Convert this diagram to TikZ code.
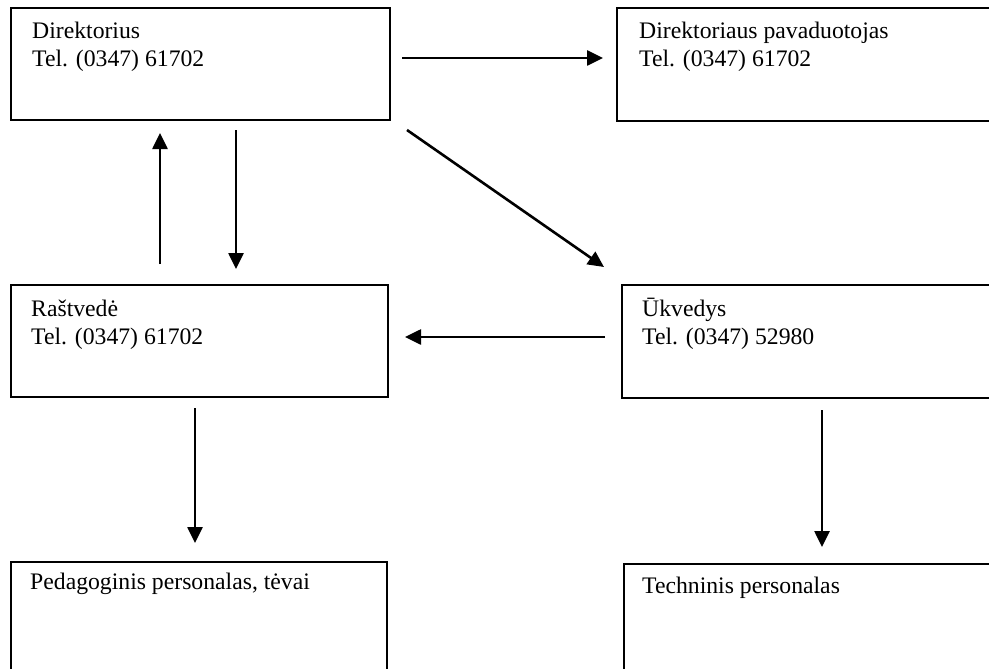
\documentclass[tikz,border=0pt]{standalone}
\usepackage{fontspec}
\setmainfont{Liberation Serif}
\usetikzlibrary{arrows.meta}
\begin{document}
\begin{tikzpicture}[x=1pt,y=-1pt,
  box/.style={draw,line width=2pt,rectangle,inner sep=0pt,anchor=north west},
  lbl/.style={anchor=base west,inner sep=0pt,font=\fontsize{23.7}{28}\selectfont},
  arr/.style={line width=2.6pt,-{Triangle[length=16pt,width=15pt]}}]
\useasboundingbox (0,0) rectangle (989,669);
\clip (0,0) rectangle (989,669);
% boxes
\node[box,minimum width=379pt,minimum height=112pt] (dir) at (10,7) {};
\node[box,minimum width=400pt,minimum height=113pt] (pav) at (616,7) {};
\node[box,minimum width=377pt,minimum height=112pt] (ras) at (10,284) {};
\node[box,minimum width=400pt,minimum height=113pt] (ukv) at (621,284) {};
\node[box,minimum width=376pt,minimum height=150pt] (ped) at (10,561) {};
\node[box,minimum width=400pt,minimum height=150pt] (tech) at (623,563) {};
% texts
\node[lbl] (dirA) at (32,39) {Direktorius};
\node[lbl] (dirB) at (32,67) {Tel. (0347) 61702};
\node[lbl] (pavA) at (639,39) {Direktoriaus pavaduotojas};
\node[lbl] (pavB) at (639,67) {Tel. (0347) 61702};
\node[lbl] (rasA) at (31,316) {Raštvedė};
\node[lbl] (rasB) at (31,344) {Tel. (0347) 61702};
\node[lbl] (ukvA) at (642,316) {Ūkvedys};
\node[lbl] (ukvB) at (642,344) {Tel. (0347) 52980};
\node[lbl] (pedA) at (30,589) {Pedagoginis personalas, tėvai};
\node[lbl] (techA) at (642,593) {Techninis personalas};
% arrow ends
\coordinate (c1s) at (402,58);  \coordinate (c1e) at (603,58);
\coordinate (c2s) at (160,264); \coordinate (c2e) at (160,133);
\coordinate (c3s) at (236,130); \coordinate (c3e) at (236,269);
\coordinate (c4s) at (407,130); \coordinate (c4e) at (604,267);
\coordinate (c5s) at (605,337); \coordinate (c5e) at (405,337);
\coordinate (c6s) at (195,408); \coordinate (c6e) at (195,543);
\coordinate (c7s) at (822,410); \coordinate (c7e) at (822,547);
\draw[arr] (c1s) -- (c1e);
\draw[arr] (c2s) -- (c2e);
\draw[arr] (c3s) -- (c3e);
\draw[arr] (c4s) -- (c4e);
\draw[arr] (c5s) -- (c5e);
\draw[arr] (c6s) -- (c6e);
\draw[arr] (c7s) -- (c7e);
\end{tikzpicture}
\end{document}
